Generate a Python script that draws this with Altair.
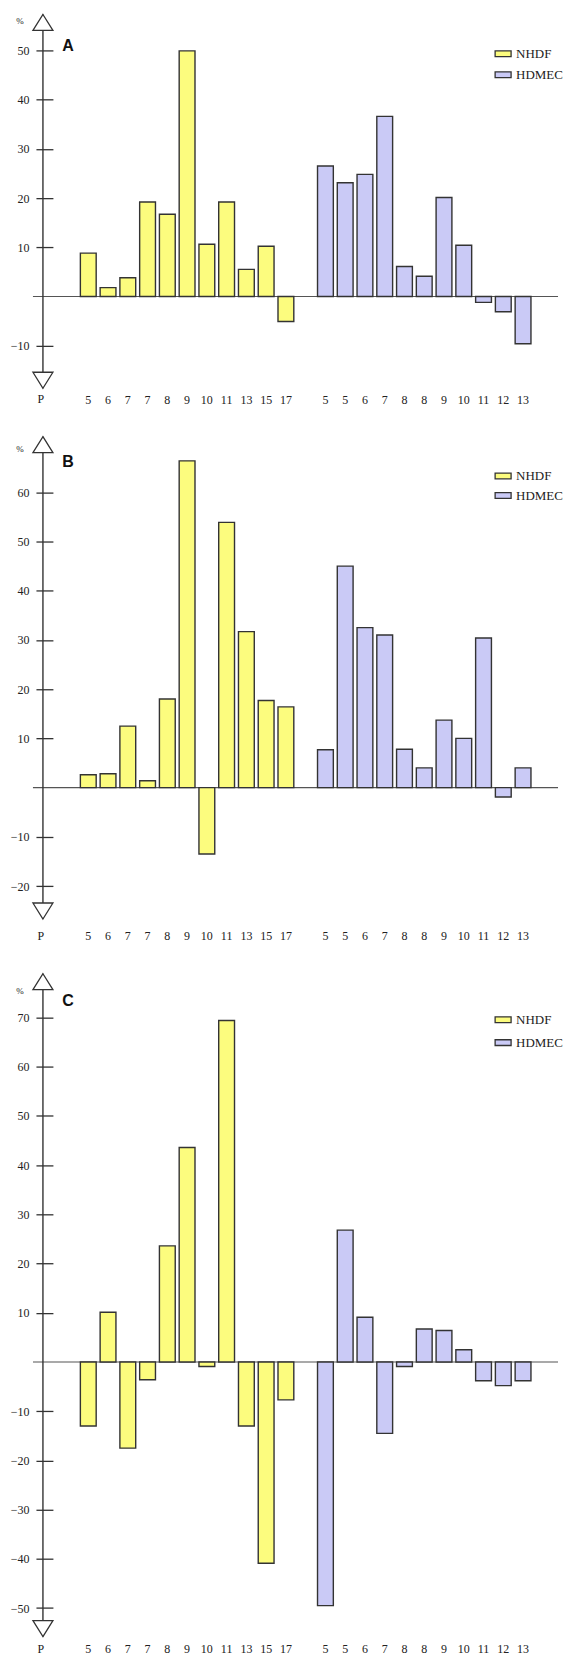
import altair as alt
import pandas as pd

# ---------------- data ----------------
nhdf_labels = ["5", "6", "7", "7", "8", "9", "10", "11", "13", "15", "17"]
hdmec_labels = ["5", "5", "6", "7", "8", "8", "9", "10", "11", "12", "13"]
series_names = ["NHDF", "HDMEC"]
series_colors = ["#FCFC7E", "#CACAF6"]

a_nhdf = [8.8, 1.8, 3.8, 19.2, 16.7, 49.9, 10.6, 19.2, 5.5, 10.2, -5.1]
a_hdmec = [26.5, 23.1, 24.8, 36.6, 6.1, 4.1, 20.1, 10.4, -1.2, -3.1, -9.6]
b_nhdf = [2.6, 2.8, 12.5, 1.4, 18.0, 66.4, -13.5, 53.9, 31.7, 17.7, 16.4]
b_hdmec = [7.7, 45.0, 32.5, 31.0, 7.8, 4.0, 13.7, 10.0, 30.4, -1.9, 4.0]
c_nhdf = [-13.0, 10.1, -17.5, -3.6, 23.6, 43.6, -0.9, 69.4, -13.0, -40.9, -7.7]
c_hdmec = [-49.5, 26.8, 9.1, -14.5, -0.9, 6.7, 6.4, 2.5, -3.8, -4.8, -3.8]

a_ticks = [-10, 10, 20, 30, 40, 50]
b_ticks = [-20, -10, 10, 20, 30, 40, 50, 60]
c_ticks = [-50, -40, -30, -20, -10, 10, 20, 30, 40, 50, 60, 70]

# ---------------- layout ----------------
PX = 4.93          # pixels per unit
W = 526
INK = "#333333"
SERIF = "Liberation Serif"
X_RANGE = [47.5, 498.9]   # band range inside the plot (pixels)

slot_order = ([f"{l}_N{i}" for i, l in enumerate(nhdf_labels)] + ["_gap"] +
              [f"{l}_H{i}" for i, l in enumerate(hdmec_labels)])

up_arrow = "M0,0L1,1.6L-1,1.6Z"
down_arrow = "M0,0L1,-1.6L-1,-1.6Z"
legend_shape = "M-1,-0.36L1,-0.36L1,0.36L-1,0.36Z"


def panel(letter, nvals, hvals, ymin, ymax, ticks, xpad, letter_y, pct_y,
          leg_y, leg_row):
    rows = []
    for i, (l, v) in enumerate(zip(nhdf_labels, nvals)):
        rows.append({"slot": f"{l}_N{i}", "value": v, "series": "NHDF"})
    for i, (l, v) in enumerate(zip(hdmec_labels, hvals)):
        rows.append({"slot": f"{l}_H{i}", "value": v, "series": "HDMEC"})
    df = pd.DataFrame(rows)
    height = (ymax - ymin) * PX

    yscale = alt.Scale(domain=[ymin, ymax], nice=False, zero=False)
    yaxis = alt.Axis(values=ticks, orient="left", offset=-20, tickSize=17,
                     domain=False, grid=False, title=None, labelFont=SERIF,
                     labelFontSize=12, labelColor="#222222", tickColor=INK,
                     tickWidth=1.3, labelPadding=7)
    xscale = alt.Scale(domain=slot_order, range=X_RANGE, paddingInner=0.2,
                       paddingOuter=0)

    bars = alt.Chart(df).mark_bar(stroke=INK, strokeWidth=1.4, opacity=1).encode(
        x=alt.X("slot:N", scale=xscale, sort=slot_order,
                axis=alt.Axis(orient="bottom", domain=False, ticks=False,
                              tickSize=0, grid=False, title=None, labelAngle=0,
                              labelExpr="split(datum.value, '_')[0]",
                              labelFont=SERIF, labelFontSize=12,
                              labelColor="#222222", labelPadding=xpad,
                              labelOverlap=False)),
        y=alt.Y("value:Q", scale=yscale, axis=yaxis),
        y2=alt.datum(0),
        color=alt.Color("series:N",
                        scale=alt.Scale(domain=series_names,
                                        range=series_colors),
                        legend=alt.Legend(orient="none", legendX=462,
                                          legendY=leg_y, title=None,
                                          symbolType=legend_shape,
                                          symbolSize=256,
                                          symbolStrokeColor=INK,
                                          symbolStrokeWidth=1.3,
                                          symbolOpacity=1,
                                          labelFont=SERIF, labelFontSize=13,
                                          labelColor="#222222",
                                          labelOffset=4, rowPadding=leg_row,
                                          padding=0)),
    )

    zero_line = alt.Chart(pd.DataFrame({"z": [0]})).mark_rule(
        color="#555555", strokeWidth=1.1).encode(
        y=alt.Y("z:Q", scale=yscale, axis=yaxis))

    axis_line = alt.Chart(pd.DataFrame({"a": [ymax], "b": [ymin]})).mark_rule(
        color=INK, strokeWidth=1.4).encode(
        x=alt.value(10),
        y=alt.Y("a:Q", scale=yscale, axis=yaxis),
        y2="b:Q")

    top_arrow = alt.Chart(pd.DataFrame({"a": [ymax]})).mark_point(
        shape=up_arrow, size=400, filled=True, fill="white", stroke=INK,
        strokeWidth=1.3, opacity=1).encode(
        x=alt.value(10), y=alt.Y("a:Q", scale=yscale, axis=yaxis))

    bottom_arrow = alt.Chart(pd.DataFrame({"a": [ymin]})).mark_point(
        shape=down_arrow, size=400, filled=True, fill="white", stroke=INK,
        strokeWidth=1.3, opacity=1).encode(
        x=alt.value(10), y=alt.Y("a:Q", scale=yscale, axis=yaxis))

    letter_txt = alt.Chart(pd.DataFrame({"t": [letter]})).mark_text(
        font="Liberation Sans", fontWeight="bold", fontSize=16,
        color="#111111", align="center", baseline="middle").encode(
        x=alt.value(35), y=alt.value(letter_y), text="t:N")

    pct_txt = alt.Chart(pd.DataFrame({"t": ["%"]})).mark_text(
        font=SERIF, fontSize=9, color="#222222", align="center",
        baseline="middle").encode(
        x=alt.value(-13), y=alt.value(pct_y), text="t:N")

    p_txt = alt.Chart(pd.DataFrame({"t": ["P"]})).mark_text(
        font=SERIF, fontSize=12, color="#222222", align="center",
        baseline="top").encode(
        x=alt.value(8), y=alt.value(height + xpad), text="t:N")

    return alt.layer(zero_line, bars, axis_line, top_arrow, bottom_arrow,
                     letter_txt, pct_txt, p_txt).properties(
        width=W, height=height)


pa = panel("A", a_nhdf, a_hdmec, -18.65, 57.3, a_ticks, 6, 31.7, 6.7, 30.4, 5)
pb = panel("B", b_nhdf, b_hdmec, -26.7, 71.3, b_ticks, 12, 25, 12.5, 30.3, 3.6)
pc = panel("C", c_nhdf, c_hdmec, -55.8, 78.9, c_ticks, 7, 27.5, 17.5, 37, 7)

chart = alt.vconcat(pa, pb, pc, spacing=28).resolve_legend(
    color="independent").properties(
    padding={"left": 2, "top": 2, "right": 0, "bottom": 0},
    background="white"
).configure_view(strokeWidth=0, stroke="transparent")

chart.save("out.html", embed_options={"renderer": "svg", "actions": False})
